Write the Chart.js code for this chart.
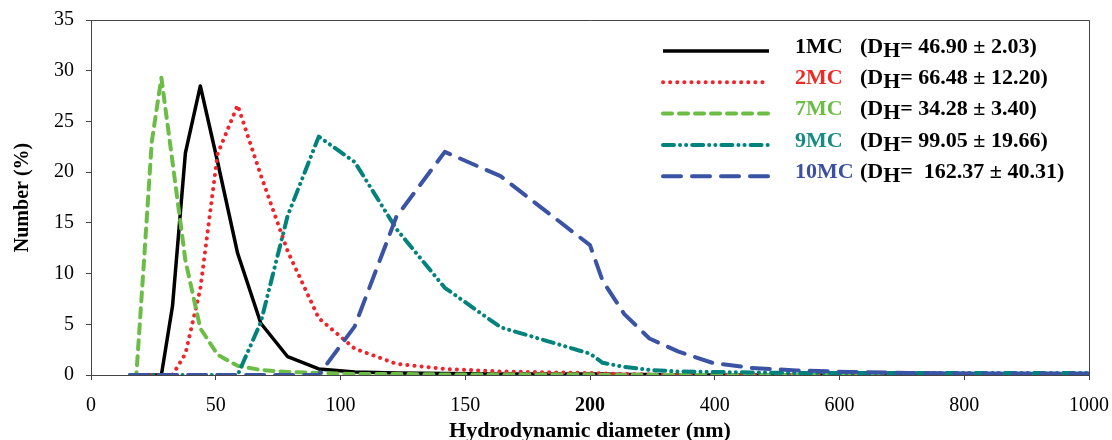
<!DOCTYPE html>
<html lang="en">
<head>
  <meta charset="UTF-8">
  <title>Hydrodynamic diameter distribution</title>
  <script src="https://cdn.jsdelivr.net/npm/chart.js"></script>
  <style>
    body { margin: 0; background: #fff; }
  </style>
</head>
<body>
  <canvas id="dlsChart" width="1112" height="440"></canvas>

  <script>
    // DLS size bins (nm) where the curves have their vertices
    const diameters = [15.69, 18.17, 21.04, 24.36, 28.21, 32.67, 37.84, 43.82, 50.75, 58.77,
                       68.06, 78.82, 91.28, 105.7, 122.4, 141.8, 164.2, 200, 220.2, 255.0,
                       295.3, 342.0, 396.1, 458.7, 531.2, 615.1, 712.4, 825.0, 955.4, 1106];

    // Number (%) for each sample
    const mc1  = [0, 0, 0, 0, 0, 6.8, 21.9, 28.5, 21.0, 12.0,
                  5.1, 1.8, 0.6, 0.3, 0.2, 0.15, 0.1, 0.1, 0.1, 0.05,
                  0.05, 0, 0, 0, 0, 0, 0, 0, 0, 0];
    const mc2  = [0, 0, 0, 0, 0, 0, 2.1, 8.5, 21.8, 26.6,
                  19.7, 12.2, 5.6, 2.6, 1.1, 0.6, 0.35, 0.2, 0.15, 0.1,
                  0.05, 0, 0, 0, 0, 0, 0, 0, 0, 0];
    const mc7  = [0, 0, 10.5, 23.0, 29.3, 21.0, 11.3, 4.6, 2.0, 0.9,
                  0.5, 0.3, 0.2, 0.1, 0.1, 0.05, 0.05, 0.05, 0, 0,
                  0, 0, 0, 0, 0, 0, 0, 0, 0, 0];
    const mc9  = [0, 0, 0, 0, 0, 0, 0, 0, 0, 0,
                  5.2, 15.7, 23.5, 21.0, 14.4, 8.6, 4.7, 2.1, 1.2, 0.8,
                  0.5, 0.35, 0.3, 0.25, 0.2, 0.2, 0.2, 0.2, 0.2, 0.2];
    const mc10 = [0, 0, 0, 0, 0, 0, 0, 0, 0, 0,
                  0, 0, 0, 4.8, 15.6, 22.0, 19.6, 12.8, 9.3, 6.0,
                  3.6, 2.3, 1.2, 0.7, 0.45, 0.3, 0.2, 0.15, 0.15, 0.15];

    const seriesNames = ['1MC', '2MC', '7MC', '9MC', '10MC'];
    const dhValues = ['46.90 ± 2.03', '66.48 ± 12.20', '34.28 ± 3.40', '99.05 ± 19.66', ' 162.37 ± 40.31'];
    const xTickLabels = ['0', '50', '100', '150', '200', '400', '600', '800', '1000'];

    // the x axis is broken: 50 nm per step up to 200, then 200 nm per step
    function toAxis(d) {
      return d <= 200 ? d / 50 : 4 + (d - 200) / 200;
    }

    const FONT = '"Liberation Serif", "Times New Roman", serif';
    const lineColors  = ['#000000', '#f2242b', '#6cbd45', '#00837c', '#3a53a4'];
    const labelColors = ['#000000', '#ee2a24', '#6cbd45', '#178c83', '#3d4fa3'];
    const dashes = [[], [0.1, 7], [9, 7], [11, 6, 0.1, 6, 0.1, 6], [18, 11]];

    const allSeries = [mc1, mc2, mc7, mc9, mc10];
    const datasets = allSeries.map((vals, i) => ({
      label: seriesNames[i],
      data: vals.map((v, j) => ({ x: toAxis(diameters[j]), y: v })),
      borderColor: lineColors[i],
      borderWidth: i === 0 ? 3.5 : 4,
      borderDash: dashes[i],
      borderCapStyle: i === 0 ? 'butt' : 'round',
      borderJoinStyle: 'round',
      pointRadius: 0,
      tension: 0,
      order: 4 - i
    }));

    // legend with subscript D_H, plus the top/right frame of the plot
    const dhLegend = {
      id: 'dhLegend',
      afterDraw(chart) {
        const ctx = chart.ctx;
        const a = chart.chartArea;
        ctx.save();
        ctx.strokeStyle = '#444';
        ctx.lineWidth = 1;
        ctx.beginPath();
        ctx.moveTo(a.left, a.top + 0.5);
        ctx.lineTo(a.right + 0.5, a.top + 0.5);
        ctx.lineTo(a.right + 0.5, a.bottom);
        ctx.stroke();

        ctx.textBaseline = 'middle';
        ctx.font = 'bold 22px ' + FONT;
        chart.data.datasets.forEach((ds, i) => {
          const y = 47 + i * 31.3;
          ctx.beginPath();
          ctx.setLineDash(ds.borderDash);
          ctx.lineCap = ds.borderCapStyle;
          ctx.lineWidth = ds.borderWidth;
          ctx.strokeStyle = ds.borderColor;
          ctx.moveTo(663, y + 4);
          ctx.lineTo(769, y + 4);
          ctx.stroke();
          ctx.setLineDash([]);

          ctx.fillStyle = labelColors[i];
          ctx.fillText(ds.label, 795, y);
          ctx.fillStyle = '#000';
          let x = 860;
          ctx.fillText('(D', x, y);
          x += ctx.measureText('(D').width;
          ctx.fillText('H', x, y + 4);
          x += ctx.measureText('H').width;
          ctx.fillText('= ' + dhValues[i] + ')', x, y);
        });
        ctx.restore();
      }
    };

    const ctxDls = document.getElementById('dlsChart').getContext('2d');
    const dlsChart = new Chart(ctxDls, {
      type: 'line',
      data: { datasets: datasets },
      options: {
        responsive: false,
        animation: false,
        layout: { padding: { top: 20, right: 23, left: 0, bottom: 0 } },
        plugins: {
          legend: { display: false },
          tooltip: { enabled: false }
        },
        scales: {
          x: {
            type: 'linear',
            min: 0,
            max: 8,
            afterFit: s => { s.height = 65; s.paddingLeft = 0; s.paddingRight = 0; },
            border: { color: '#444', width: 1 },
            grid: { drawOnChartArea: false, tickLength: 5, color: '#444' },
            ticks: {
              stepSize: 1,
              padding: 14,
              color: '#000',
              maxRotation: 0,
              callback: v => xTickLabels[v],
              font: c => ({ family: FONT, size: 20, weight: c.tick && c.tick.value === 4 ? 'bold' : 'normal' })
            },
            title: {
              display: true,
              text: 'Hydrodynamic diameter (nm)',
              color: '#000',
              font: { family: FONT, size: 22, weight: 'bold', lineHeight: 0.8 },
              padding: { top: 0, bottom: 0 }
            }
          },
          y: {
            min: 0,
            max: 35,
            afterFit: s => { s.width = 91; s.paddingTop = 0; s.paddingBottom = 0; },
            border: { color: '#444', width: 1 },
            grid: { drawOnChartArea: false, tickLength: 5, color: '#444' },
            ticks: {
              stepSize: 5,
              padding: 12,
              color: '#000',
              font: { family: FONT, size: 20 }
            },
            title: {
              display: true,
              text: 'Number (%)',
              color: '#000',
              font: { family: FONT, size: 20, weight: 'bold' },
              padding: { top: 11, bottom: 0 }
            }
          }
        }
      },
      plugins: [dhLegend]
    });
  </script>
</body>
</html>
